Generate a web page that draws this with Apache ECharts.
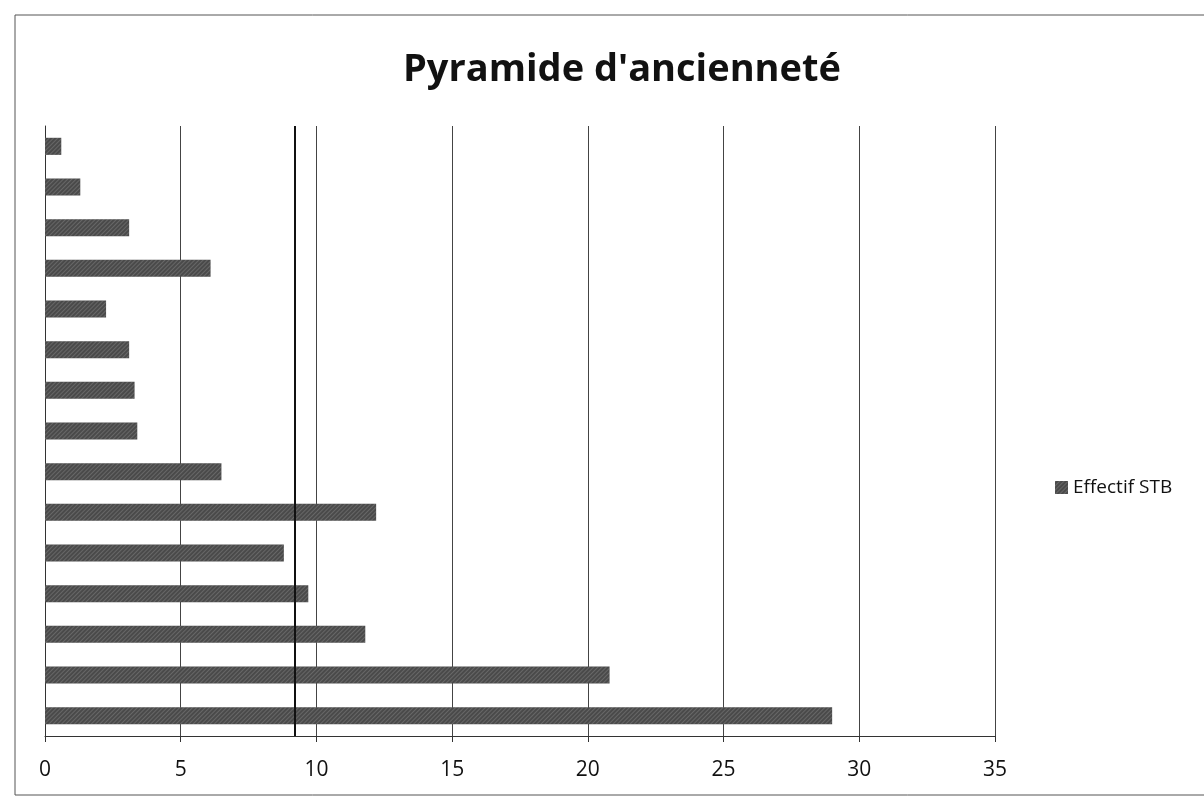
<!DOCTYPE html>
<html>
<head>
<meta charset="utf-8">
<title>Pyramide d'ancienneté</title>
<script src="https://cdn.jsdelivr.net/npm/echarts@6/dist/echarts.min.js"></script>
<style>
  html, body { margin: 0; padding: 0; background: #fff; }
  #chart { width: 1204px; height: 800px; }
</style>
</head>
<body>
<div id="chart"></div>
<script>
// Seniority brackets, listed bottom to top (labels are not displayed)
const categories = ['T1', 'T2', 'T3', 'T4', 'T5', 'T6', 'T7', 'T8', 'T9', 'T10', 'T11', 'T12', 'T13', 'T14', 'T15'];
// Headcount share per bracket
const effectifSTB = [29, 20.8, 11.8, 9.7, 8.8, 12.2, 6.5, 3.4, 3.3, 3.1, 2.25, 6.1, 3.1, 1.3, 0.6];
// Value axis ticks
const xTicks = [0, 5, 10, 15, 20, 25, 30, 35];
// Hand-drawn reference line across the plot
const refLine = 9.2;

const chart = echarts.init(document.getElementById('chart'), null, { renderer: 'canvas' });

// Fine diagonal hatching on the bars
const hatch = {
  symbol: 'rect',
  symbolSize: 1,
  dashArrayX: [1, 0],
  dashArrayY: [1, 2],
  rotation: -Math.PI / 4,
  color: 'rgba(255,255,255,0.16)'
};

chart.setOption({
  backgroundColor: '#ffffff',
  animation: false,
  title: {
    text: "Pyramide d'ancienneté",
    left: 617,
    textAlign: 'center',
    top: 46,
    textStyle: { fontFamily: 'Open Sans', fontWeight: 'bold', fontSize: 38, color: '#111' }
  },
  legend: {
    data: ['Effectif STB'],
    orient: 'vertical',
    left: 1050,
    top: 473,
    itemWidth: 13,
    itemHeight: 13,
    itemGap: 8,
    icon: 'rect',
    textStyle: { fontFamily: 'Open Sans', fontSize: 19, color: '#111' }
  },
  grid: { left: 45, right: 209, top: 126, bottom: 64, containLabel: false },
  xAxis: {
    type: 'value',
    min: xTicks[0],
    max: xTicks[xTicks.length - 1],
    interval: 5,
    axisLine: { show: true, lineStyle: { color: '#333', width: 1 } },
    axisTick: { show: true, length: 6, lineStyle: { color: '#333' } },
    axisLabel: { fontFamily: 'Open Sans', fontSize: 21, color: '#111', margin: 24 },
    splitLine: { show: true, lineStyle: { color: '#444', width: 1 } }
  },
  yAxis: {
    type: 'category',
    data: categories,
    axisLine: { show: true, lineStyle: { color: '#333', width: 1 } },
    axisTick: { show: false },
    axisLabel: { show: false }
  },
  series: [{
    name: 'Effectif STB',
    type: 'bar',
    data: effectifSTB,
    barWidth: '42%',
    itemStyle: { color: '#4a4a4a', decal: hatch },
    markLine: {
      silent: true,
      symbol: 'none',
      label: { show: false },
      lineStyle: { color: '#111', width: 2, type: 'solid' },
      data: [{ xAxis: refLine }]
    }
  }],
  graphic: [{
    type: 'rect',
    shape: { x: 15, y: 15, width: 1200, height: 780 },
    style: { fill: 'none', stroke: '#555', lineWidth: 1 },
    silent: true
  }]
});
</script>
</body>
</html>
